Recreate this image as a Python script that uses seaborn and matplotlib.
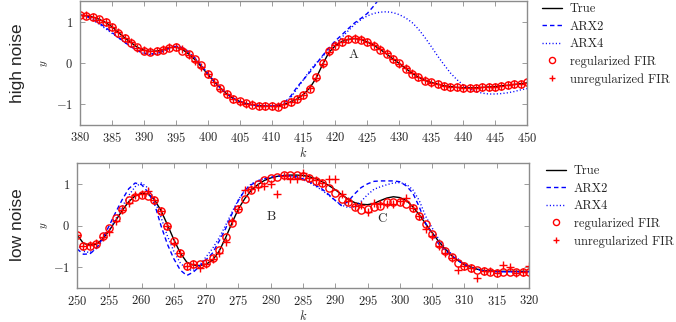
import numpy as np
import pandas as pd
import matplotlib
matplotlib.use("Agg")
import matplotlib.pyplot as plt
import seaborn as sns

# ---------------- data: high noise panel ----------------
k_hi = list(range(380, 451))
true_hi = [1.16, 1.14, 1.11, 1.06, 0.98, 0.88, 0.74, 0.61, 0.49, 0.38,
           0.31, 0.28, 0.29, 0.32, 0.37, 0.39, 0.33, 0.22, 0.08, -0.09,
           -0.27, -0.45, -0.61, -0.75, -0.86, -0.93, -0.98, -1.01, -1.03, -1.04,
           -1.05, -1.04, -1.00, -0.94, -0.87, -0.76, -0.60, -0.36, -0.03, 0.26,
           0.42, 0.52, 0.57, 0.59, 0.57, 0.51, 0.43, 0.33, 0.22, 0.10,
           -0.01, -0.13, -0.25, -0.34, -0.42, -0.47, -0.51, -0.55, -0.57, -0.59,
           -0.60, -0.60, -0.60, -0.59, -0.58, -0.57, -0.55, -0.54, -0.52, -0.50,
           -0.48]
arx2_hi = [1.16, 1.13, 1.06, 0.97, 0.86, 0.74, 0.62, 0.50, 0.39, 0.30,
           0.24, 0.22, 0.23, 0.29, 0.36, 0.40, 0.37, 0.27, 0.12, -0.06,
           -0.25, -0.44, -0.60, -0.74, -0.85, -0.93, -0.98, -1.01, -1.03, -1.04,
           -1.04, -1.02, -0.96, -0.80, -0.58, -0.40, -0.22, -0.02, 0.18, 0.37,
           0.54, 0.68, 0.83, 0.97, 1.08, 1.20, 1.38, 1.58, 1.75, 1.90,
           2.02, 2.10, 2.15, 2.17, 2.15, 2.10, 2.04, 1.98, 1.92, 1.87,
           1.83, 1.80, 1.78, 1.76, 1.75, 1.74, 1.73, 1.72, 1.71, 1.70,
           1.70]
arx4_hi = [1.16, 1.12, 1.04, 0.94, 0.83, 0.72, 0.61, 0.50, 0.40, 0.30,
           0.23, 0.20, 0.22, 0.28, 0.36, 0.41, 0.38, 0.28, 0.12, -0.06,
           -0.26, -0.45, -0.61, -0.75, -0.86, -0.94, -0.99, -1.02, -1.04, -1.05,
           -1.05, -1.03, -0.97, -0.84, -0.62, -0.40, -0.18, 0.00, 0.16, 0.32,
           0.47, 0.62, 0.78, 0.93, 1.05, 1.14, 1.20, 1.23, 1.24, 1.22,
           1.17, 1.09, 0.98, 0.82, 0.62, 0.40, 0.17, -0.04, -0.24, -0.40,
           -0.53, -0.63, -0.69, -0.73, -0.75, -0.75, -0.74, -0.72, -0.69, -0.65,
           -0.62]
reg_hi = [1.17, 1.14, 1.12, 1.06, 0.98, 0.88, 0.72, 0.61, 0.49, 0.38,
          0.30, 0.27, 0.29, 0.32, 0.37, 0.39, 0.30, 0.22, 0.10, -0.06,
          -0.27, -0.46, -0.60, -0.76, -0.87, -0.92, -0.97, -1.01, -1.03, -1.04,
          -1.05, -1.07, -0.99, -0.95, -0.88, -0.77, -0.63, -0.35, 0.00, 0.28,
          0.42, 0.52, 0.57, 0.59, 0.56, 0.50, 0.42, 0.31, 0.22, 0.10,
          -0.01, -0.15, -0.27, -0.35, -0.43, -0.47, -0.51, -0.55, -0.57, -0.59,
          -0.60, -0.60, -0.60, -0.59, -0.58, -0.57, -0.55, -0.54, -0.52, -0.50,
          -0.47]
unreg_hi = [1.16, 1.15, 1.11, 1.05, 0.98, 0.87, 0.75, 0.61, 0.50, 0.37,
            0.31, 0.28, 0.30, 0.33, 0.38, 0.39, 0.33, 0.20, 0.06, -0.10,
            -0.27, -0.45, -0.62, -0.75, -0.86, -0.94, -0.98, -1.00, -1.03, -1.05,
            -1.05, -1.04, -1.00, -0.94, -0.86, -0.77, -0.60, -0.37, -0.03, 0.26,
            0.43, 0.52, 0.58, 0.60, 0.57, 0.51, 0.43, 0.33, 0.23, 0.09,
            -0.02, -0.12, -0.25, -0.34, -0.42, -0.48, -0.51, -0.55, -0.57, -0.59,
            -0.61, -0.60, -0.60, -0.59, -0.58, -0.57, -0.56, -0.54, -0.52, -0.50,
            -0.48]

# ---------------- data: low noise panel ----------------
k_lo = list(range(250, 321))
true_lo = [-0.22, -0.43, -0.47, -0.45, -0.32, -0.12, 0.12, 0.36, 0.57, 0.71,
           0.77, 0.76, 0.62, 0.36, 0.02, -0.34, -0.66, -0.88, -0.95, -0.96,
           -0.93, -0.83, -0.62, -0.30, 0.06, 0.40, 0.65, 0.85, 0.98, 1.08,
           1.14, 1.18, 1.20, 1.21, 1.21, 1.20, 1.17, 1.12, 1.05, 0.96,
           0.86, 0.74, 0.63, 0.55, 0.51, 0.50, 0.53, 0.60, 0.66, 0.69,
           0.67, 0.60, 0.45, 0.26, 0.04, -0.17, -0.38, -0.56, -0.72, -0.84,
           -0.94, -1.00, -1.05, -1.08, -1.09, -1.10, -1.10, -1.10, -1.10, -1.10,
           -1.10]
arx2_lo = [-0.56, -0.69, -0.68, -0.55, -0.30, 0.00, 0.32, 0.62, 0.88, 1.02,
           0.98, 0.80, 0.52, 0.00, -0.45, -0.80, -1.07, -1.20, -1.12, -0.98,
           -0.82, -0.66, -0.38, -0.08, 0.28, 0.60, 0.85, 0.98, 1.06, 1.12,
           1.16, 1.18, 1.19, 1.19, 1.17, 1.12, 1.05, 0.96, 0.87, 0.74,
           0.60, 0.47, 0.58, 0.76, 0.91, 1.00, 1.06, 1.07, 1.07, 1.07,
           1.05, 0.95, 0.78, 0.45, 0.05, -0.20, -0.44, -0.60, -0.72, -0.84,
           -0.94, -1.01, -1.06, -1.09, -1.10, -1.11, -1.11, -1.11, -1.11, -1.11,
           -1.11]
arx4_lo = [-0.45, -0.62, -0.65, -0.55, -0.35, -0.12, 0.15, 0.45, 0.72, 0.93,
           1.02, 0.90, 0.62, 0.20, -0.25, -0.62, -0.90, -1.05, -1.08, -0.95,
           -0.75, -0.55, -0.30, 0.00, 0.32, 0.62, 0.85, 1.00, 1.08, 1.13,
           1.16, 1.18, 1.19, 1.18, 1.15, 1.10, 1.03, 0.94, 0.84, 0.72,
           0.60, 0.49, 0.43, 0.45, 0.58, 0.74, 0.87, 0.93, 0.98, 1.02,
           1.03, 0.99, 0.86, 0.60, 0.22, -0.06, -0.32, -0.53, -0.68, -0.80,
           -0.92, -1.00, -1.05, -1.08, -1.10, -1.11, -1.11, -1.11, -1.11, -1.11,
           -1.11]
reg_lo = [-0.22, -0.50, -0.48, -0.44, -0.24, -0.06, 0.17, 0.40, 0.61, 0.69,
          0.73, 0.71, 0.61, 0.35, -0.01, -0.37, -0.67, -0.97, -0.92, -0.92,
          -0.91, -0.78, -0.58, -0.28, 0.06, 0.40, 0.63, 0.86, 1.00, 1.09,
          1.13, 1.17, 1.21, 1.21, 1.21, 1.19, 1.13, 1.07, 1.01, 0.89,
          0.78, 0.63, 0.57, 0.44, 0.38, 0.40, 0.44, 0.48, 0.57, 0.57,
          0.56, 0.52, 0.41, 0.24, 0.04, -0.20, -0.45, -0.62, -0.75, -0.89,
          -0.98, -1.03, -1.07, -1.10, -1.11, -1.13, -1.12, -1.12, -1.12, -1.12,
          -1.11]
unreg_lo = [-0.22, -0.50, -0.46, -0.42, -0.27, -0.15, 0.12, 0.38, 0.55, 0.73,
            0.75, 0.83, 0.62, 0.35, 0.00, -0.43, -0.67, -0.98, -0.92, -1.02,
            -0.92, -0.80, -0.66, -0.40, 0.10, 0.40, 0.85, 0.88, 0.92, 0.95,
            1.00, 0.76, 1.20, 1.11, 1.11, 1.27, 1.13, 1.10, 1.03, 1.12,
            1.12, 0.75, 0.60, 0.48, 0.50, 0.33, 0.55, 0.52, 0.52, 0.52,
            0.60, 0.66, 0.42, 0.22, -0.08, -0.26, -0.50, -0.65, -0.78, -1.06,
            -0.98, -1.02, -1.25, -1.08, -1.10, -1.14, -0.95, -0.99, -1.14, -1.12,
            -0.97]

series_names = ["True", "ARX2", "ARX4", "regularized FIR", "unregularized FIR"]
panel_names = ["high noise", "low noise"]
notes_hi = [("A", 422.8, 0.20)]
notes_lo = [("B", 280.1, 0.20), ("C", 297.3, 0.16)]

# ---------------- style ----------------
sns.set_style("ticks")
plt.rcParams["font.family"] = ["cmr10", "DejaVu Serif"]
plt.rcParams["mathtext.fontset"] = "cm"
plt.rcParams["axes.formatter.use_mathtext"] = True
plt.rcParams["axes.unicode_minus"] = True

GREY = "#8c8c8c"

fig = plt.figure(figsize=(6.76, 3.22), dpi=100)
ax1 = fig.add_axes([80 / 676, 1 - 125 / 322, 447 / 676, 124 / 322])
ax2 = fig.add_axes([77 / 676, 1 - 288 / 322, 452 / 676, 125 / 322])


def draw(ax, k, tr, a2, a4, rg, ur, xlim, notes, leg_xy, ylab_x, klab_y):
    df = pd.DataFrame({"k": k, "True": tr, "ARX2": a2, "ARX4": a4,
                       "reg": rg, "unreg": ur})
    sns.lineplot(data=df, x="k", y="True", ax=ax, color="black", lw=1.0,
                 label=series_names[0])
    sns.lineplot(data=df, x="k", y="ARX2", ax=ax, color="blue", lw=1.0,
                 dashes=False, linestyle=(0, (3.2, 2.2)), label=series_names[1])
    sns.lineplot(data=df, x="k", y="ARX4", ax=ax, color="blue", lw=1.0,
                 dashes=False, linestyle=(0, (0.8, 1.6)), label=series_names[2])
    sns.lineplot(data=df, x="k", y="reg", ax=ax, color="red", linestyle="",
                 marker="o", markersize=5.2, markerfacecolor="none",
                 markeredgecolor="red", markeredgewidth=1.0,
                 label=series_names[3])
    sns.lineplot(data=df, x="k", y="unreg", ax=ax, color="red", linestyle="",
                 marker="+", markersize=5.5, markeredgecolor="red",
                 markeredgewidth=1.0, label=series_names[4])
    ax.set_xlim(*xlim)
    ax.set_ylim(-1.5, 1.5)
    ax.set_xticks(range(xlim[0], xlim[1] + 1, 5))
    ax.set_yticks([-1, 0, 1])
    for s in ax.spines.values():
        s.set_visible(True)
        s.set_color(GREY)
        s.set_linewidth(1.0)
    ax.tick_params(direction="in", length=3.5, width=0.6, color=GREY,
                   top=True, right=True, labelsize=9, pad=5)
    ax.tick_params(axis="x", pad=4.5)
    ax.set_xlabel("$k$", fontsize=9)
    ax.set_ylabel("$y$", fontsize=8)
    ax.yaxis.label.set_va("center")
    ax.xaxis.label.set_va("center")
    ax.xaxis.set_label_coords(0.5, klab_y)
    ax.yaxis.set_label_coords(ylab_x, 0.5)
    for t, x, y in notes:
        ax.text(x, y, t, fontsize=9.5, ha="center", va="center")
    h, l = ax.get_legend_handles_labels()
    ax.legend(h, l, loc="upper left", bbox_to_anchor=leg_xy,
              bbox_transform=fig.transFigure, frameon=False, fontsize=9,
              handlelength=1.6, handletextpad=0.6, labelspacing=0.42,
              borderaxespad=0, borderpad=0, markerscale=0.85)


draw(ax1, k_hi, true_hi, arx2_hi, arx4_hi, reg_hi, unreg_hi, (380, 450),
     notes_hi, (542 / 676, 1 - 3 / 322), (45 - 80) / 447, -0.225)
draw(ax2, k_lo, true_lo, arx2_lo, arx4_lo, reg_lo, unreg_lo, (250, 320),
     notes_lo, (546 / 676, 1 - 165 / 322), (45 - 77) / 452, -0.225)

fig.text(18 / 676, 1 - 63 / 322, panel_names[0], rotation=90, ha="center",
         va="center", fontsize=12.5, family="Liberation Sans")
fig.text(18 / 676, 1 - 225 / 322, panel_names[1], rotation=90, ha="center",
         va="center", fontsize=12.5, family="Liberation Sans")

fig.savefig("out.png", dpi=100)
